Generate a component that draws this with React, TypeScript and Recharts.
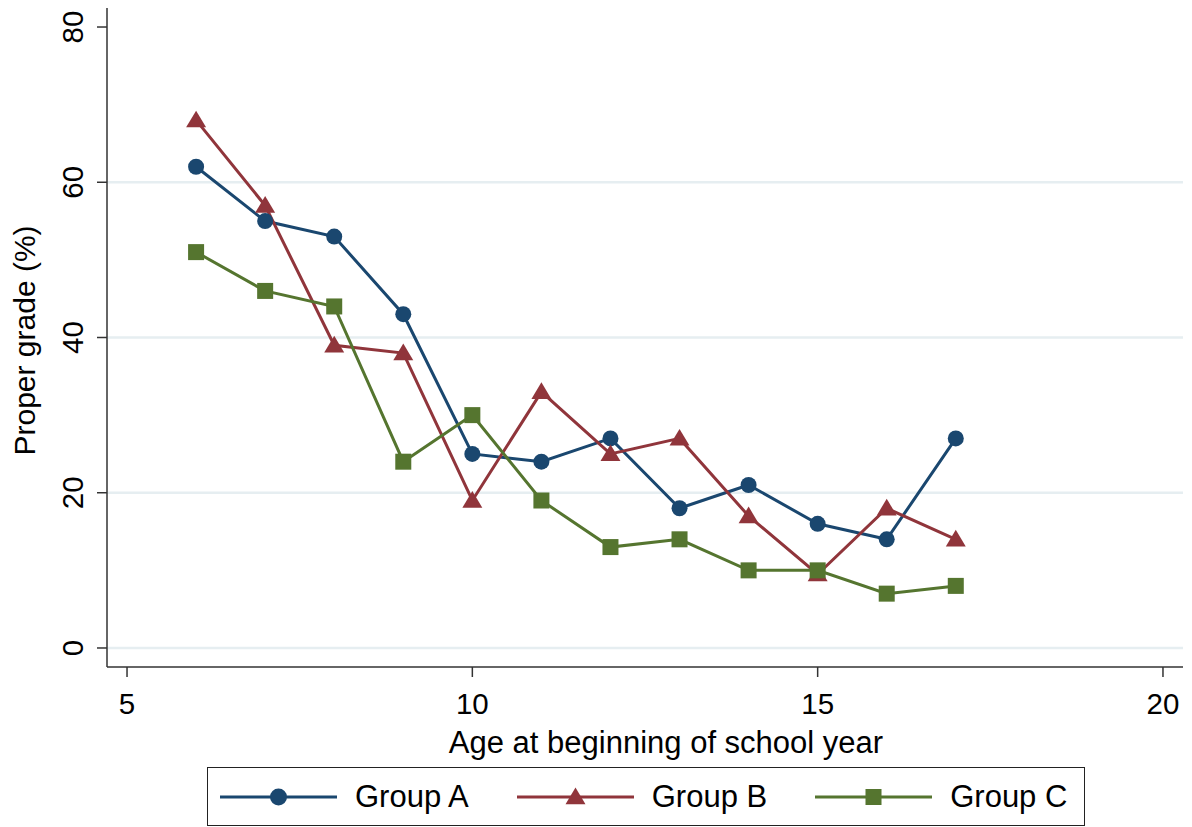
import React from 'react';
import { LineChart, Line, XAxis, YAxis, CartesianGrid, Legend } from 'recharts';

const ages = [6, 7, 8, 9, 10, 11, 12, 13, 14, 15, 16, 17];
const groupA = [62, 55, 53, 43, 25, 24, 27, 18, 21, 16, 14, 27];
const groupB = [68, 57, 39, 38, 19, 33, 25, 27, 17, 9.5, 18, 14];
const groupC = [51, 46, 44, 24, 30, 19, 13, 14, 10, 10, 7, 8];
const xTicks = [5, 10, 15, 20];
const yTicks = [0, 20, 40, 60, 80];
const gridValues = [0, 20, 40, 60];
const seriesNames = ['Group A', 'Group B', 'Group C'];

const BLUE = '#1a476f';
const RED = '#90353b';
const GREEN = '#55752f';
const FONT = '"Liberation Sans", Arial, sans-serif';

const data = ages.map((age, i) => ({ age, a: groupA[i], b: groupB[i], c: groupC[i] }));

const Circle = (props: any) => {
  const { cx, cy, key } = props;
  if (cx == null || cy == null) return null;
  return <circle key={key} cx={cx} cy={cy} r={8} fill={BLUE} stroke="none" />;
};
const Tri = (props: any) => {
  const { cx, cy, key } = props;
  if (cx == null || cy == null) return null;
  const s = 9.5;
  return (
    <polygon
      key={key}
      points={`${cx},${cy - s} ${cx - s * 1.05},${cy + s * 0.75} ${cx + s * 1.05},${cy + s * 0.75}`}
      fill={RED}
    />
  );
};
const Sq = (props: any) => {
  const { cx, cy, key } = props;
  if (cx == null || cy == null) return null;
  return <rect key={key} x={cx - 8} y={cy - 8} width={16} height={16} fill={GREEN} />;
};

const YTick = (props: any) => {
  const { x, y, payload } = props;
  const bx = x - 12;
  return (
    <text
      x={bx}
      y={y}
      transform={`rotate(-90, ${bx}, ${y})`}
      textAnchor="middle"
      fontSize={29.5}
      fontFamily={FONT}
      fill="#000"
    >
      {payload.value}
    </text>
  );
};

const markerFor = (name: string, cx: number, cy: number) => {
  if (name === 'Group A') return <circle cx={cx} cy={cy} r={8.5} fill={BLUE} />;
  if (name === 'Group B') {
    const s = 9.5;
    return (
      <polygon
        points={`${cx},${cy - s} ${cx - s * 1.05},${cy + s * 0.75} ${cx + s * 1.05},${cy + s * 0.75}`}
        fill={RED}
      />
    );
  }
  return <rect x={cx - 8} y={cy - 8} width={16} height={16} fill={GREEN} />;
};

const renderLegend = (props: any) => {
  const payload = props.payload || [];
  return (
    <div
      style={{
        boxSizing: 'border-box',
        width: 878,
        height: 59,
        border: '1.5px solid #222',
        display: 'flex',
        alignItems: 'center',
        paddingLeft: 12,
        fontFamily: FONT,
        fontSize: 31,
        color: '#000',
        background: '#fff',
      }}
    >
      {payload.map((p: any, i: number) => (
        <div key={p.value} style={{ display: 'flex', alignItems: 'center', marginRight: i < payload.length - 1 ? 48 : 0 }}>
          <svg width={117} height={24} style={{ marginRight: 18, display: 'block' }}>
            <line x1={0} y1={12} x2={117} y2={12} stroke={p.color} strokeWidth={3} />
            {markerFor(p.value, 58.5, 12)}
          </svg>
          <span style={{ lineHeight: '31px' }}>{p.value}</span>
        </div>
      ))}
    </div>
  );
};

export default function App() {
  return (
    <div style={{ position: 'absolute', left: 0, top: 0, width: 1192, height: 827, background: '#fff' }}>
      <LineChart
        width={1192}
        height={827}
        data={data}
        margin={{ top: 8, right: 9, left: 0, bottom: 1 }}
      >
        <CartesianGrid
          vertical={false}
          horizontalValues={gridValues}
          stroke="#e6eef1"
          strokeWidth={2.5}
        />
        <XAxis
          type="number"
          dataKey="age"
          domain={[4.71, 20.29]}
          ticks={xTicks}
          allowDataOverflow
          height={100}
          tickSize={10}
          tickMargin={16}
          stroke="#333"
          strokeWidth={1.5}
          tick={{ fontSize: 29.5, fontFamily: FONT, fill: '#000' }}
          label={(lp: any) => {
            const vb = lp.viewBox || {};
            return (
              <text
                x={vb.x + vb.width / 2 + 21}
                y={vb.y + 86}
                textAnchor="middle"
                fontSize={31}
                fontFamily={FONT}
                fill="#000"
              >
                Age at beginning of school year
              </text>
            );
          }}
        />
        <YAxis
          type="number"
          domain={[-2.45, 82.45]}
          ticks={yTicks}
          allowDataOverflow
          width={107}
          tickSize={10}
          tickMargin={2}
          stroke="#333"
          strokeWidth={1.5}
          tick={<YTick />}
          label={(lp: any) => {
            const vb = lp.viewBox || {};
            const cx = 35;
            const cy = vb.y + vb.height / 2 + 3;
            return (
              <text
                x={cx}
                y={cy}
                transform={`rotate(-90, ${cx}, ${cy})`}
                textAnchor="middle"
                fontSize={30}
                fontFamily={FONT}
                fill="#000"
              >
                Proper grade (%)
              </text>
            );
          }}
        />
        <Legend
          verticalAlign="bottom"
          content={renderLegend}
          wrapperStyle={{ left: 207, bottom: 1, width: 878, height: 59 }}
        />
        <Line
          type="linear"
          dataKey="a"
          name={seriesNames[0]}
          stroke={BLUE}
          strokeWidth={3}
          dot={<Circle />}
          isAnimationActive={false}
        />
        <Line
          type="linear"
          dataKey="b"
          name={seriesNames[1]}
          stroke={RED}
          strokeWidth={3}
          dot={<Tri />}
          isAnimationActive={false}
        />
        <Line
          type="linear"
          dataKey="c"
          name={seriesNames[2]}
          stroke={GREEN}
          strokeWidth={3}
          dot={<Sq />}
          isAnimationActive={false}
        />
      </LineChart>
    </div>
  );
}
